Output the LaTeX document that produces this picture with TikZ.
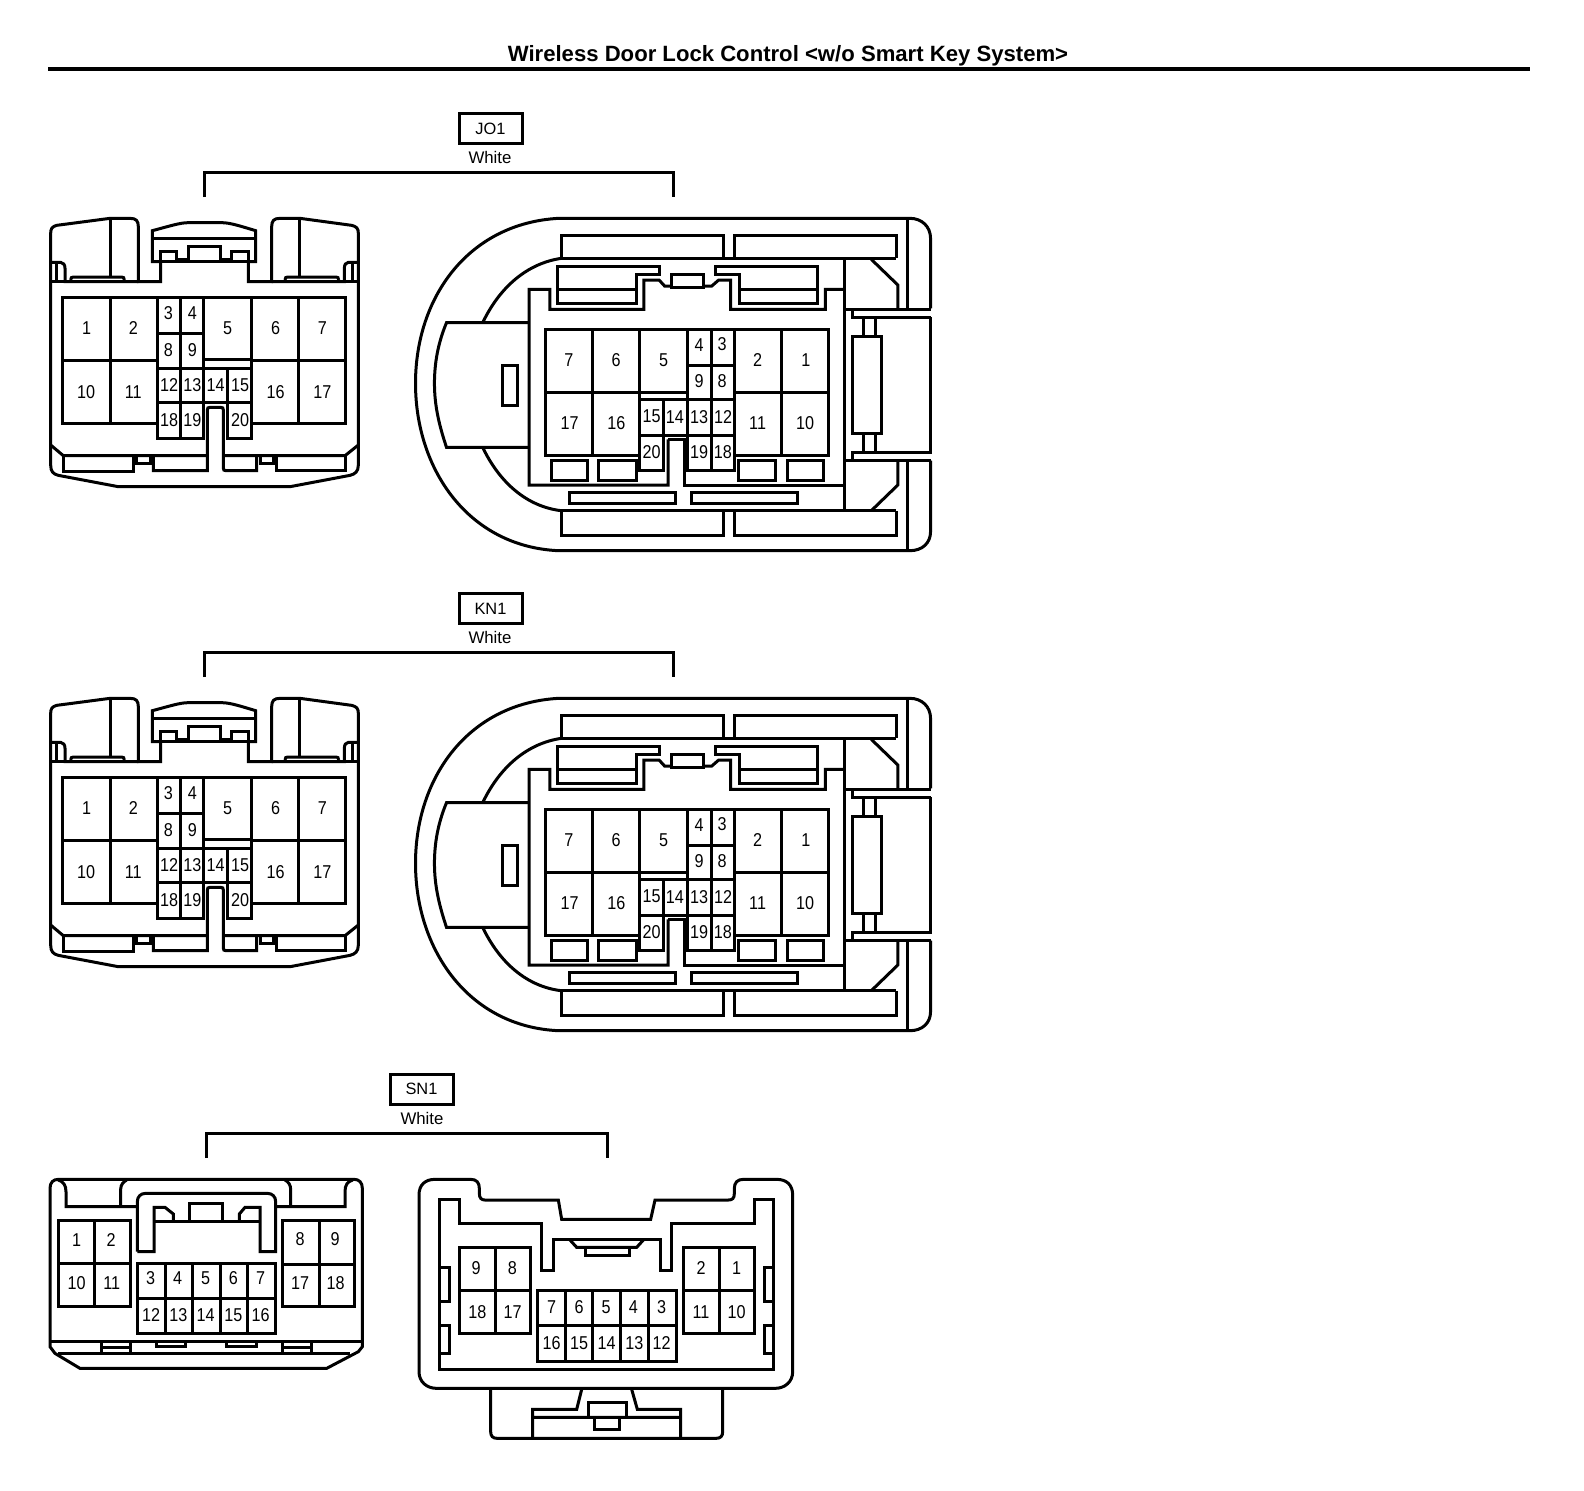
\documentclass[tikz,border=0pt]{standalone}
\usepackage{fontspec}
\usepackage{graphicx}
\setmainfont{Liberation Sans}
\tikzset{
  wire/.style={line width=1.5pt,line join=miter,draw=black},
  rulewire/.style={line width=2pt,draw=black},
  pinlabel/.style={inner sep=0pt,font=\fontsize{9.3}{10}\selectfont},
  tagbox/.style={draw=black,line width=1.5pt,minimum width=31.5pt,minimum height=15pt,inner sep=0pt,font=\fontsize{8.2}{9}\selectfont},
  taglabel/.style={inner sep=0pt,font=\fontsize{8.4}{9}\selectfont},
  titlelabel/.style={inner sep=0pt,font=\fontsize{11.06}{12}\selectfont\bfseries}
}
\newcommand{\pn}[3]{\node[pinlabel] (\pfx-#3) at (#1,#2) {\scalebox{0.87}[1]{#3}};}
% left 20-pin connector
\newcommand{\connA}[3]{%
\begin{scope}[shift={(#2,#3)},x=0.16667pt,y=-0.16667pt]
\def\pfx{#1}
\draw[wire] (62,100) .. controls (62,85) and (67,80) .. (80,76) -- (240,55) -- (300,55) .. controls (318,55) and (325,62) .. (325,80) -- (325,245) -- (392,245) -- (392,185) -- (367,185) -- (367,92) .. controls (420,78) and (450,68) .. (475,68) -- (575,68) .. controls (600,68) and (630,78) .. (677,92) -- (677,185) -- (655,185) -- (655,245) -- (725,245) -- (725,80) .. controls (725,62) and (732,55) .. (750,55) -- (810,55) -- (965,76) .. controls (980,80) and (985,85) .. (985,100) -- (985,795) .. controls (985,815) and (975,822) .. (960,826) -- (780,860) -- (265,860) -- (85,826) .. controls (70,822) and (62,815) .. (62,795) -- cycle;
\draw[wire] (367,115) -- (677,115);
\draw[wire] (367,185) -- (677,185);
\draw[wire] (392,185) -- (392,155) -- (440,155) -- (440,185) (440,177) -- (475,177) (475,185) -- (475,140) -- (570,140) -- (570,185) (570,177) -- (605,177) (605,185) -- (605,155) -- (655,155) -- (655,185);
\draw[wire] (62,187) -- (92,187) .. controls (100,187) and (105,195) .. (105,205) -- (105,245) -- (325,245);
\draw[wire] (80,190) -- (80,245) (62,245) -- (105,245);
\draw[wire] (985,187) -- (955,187) .. controls (947,187) and (943,195) .. (943,205) -- (943,245) -- (725,245);
\draw[wire] (967,190) -- (967,245) (985,245) -- (943,245);
\draw[wire] (122,240) .. controls (122,233) and (125,231) .. (130,231) -- (275,231) .. controls (280,231) and (283,233) .. (283,240);
\draw[wire] (765,240) .. controls (765,233) and (768,231) .. (773,231) -- (918,231) .. controls (923,231) and (926,233) .. (926,240);
\draw[wire] (240,58) -- (240,231) (808,58) -- (808,231);
% lower band
\draw[wire] (62,735) -- (100,767) -- (532,767) (580,767) -- (945,767) -- (985,735);
\draw[wire] (100,767) -- (100,815) -- (310,815) -- (310,767);
\draw[wire] (320,767) -- (320,790) -- (360,790) -- (360,767);
\draw[wire] (370,767) -- (370,812) -- (532,812) -- (532,630) .. controls (532,624) and (534,622) .. (540,622) -- (572,622) .. controls (578,622) and (580,624) .. (580,630) -- (580,804) .. controls (580,810) and (582,812) .. (588,812) -- (680,812) -- (680,767);
\draw[wire] (690,767) -- (690,790) -- (730,790) -- (730,767);
\draw[wire] (740,767) -- (740,812) -- (945,812) -- (945,767);
% terminal cells
\draw[wire] (383,670) -- (97,670) -- (97,293) -- (945,293) -- (945,670) -- (665,670);
\draw[wire] (97,482) -- (383,482) (665,482) -- (945,482) (240,293) -- (240,670) (805,293) -- (805,670);
\draw[wire] (383,293) -- (383,715) -- (520,715) -- (520,505) (452,293) -- (452,715) (520,293) -- (520,505);
\draw[wire] (383,400) -- (520,400) (383,505) -- (665,505) (520,478) -- (665,478) (383,608) -- (665,608);
\draw[wire] (665,293) -- (665,715) -- (592,715) -- (592,505);
\pn{170}{385}{1}\pn{310}{385}{2}\pn{415}{340}{3}\pn{487}{340}{4}\pn{593}{385}{5}\pn{737}{385}{6}\pn{877}{385}{7}
\pn{415}{450}{8}\pn{487}{450}{9}\pn{168}{575}{10}\pn{310}{575}{11}\pn{417}{555}{12}\pn{487}{555}{13}\pn{557}{555}{14}\pn{630}{555}{15}
\pn{737}{575}{16}\pn{877}{575}{17}\pn{417}{660}{18}\pn{487}{660}{19}\pn{630}{660}{20}
\end{scope}}
% right 20-pin connector
\newcommand{\connB}[3]{%
\begin{scope}[shift={(#2,#3)},x=0.17225pt,y=-0.16667pt]
\def\pfx{#1}
\draw[wire] (1540,325) -- (1540,115) .. controls (1540,80) and (1515,55) .. (1480,55) -- (460,55) .. controls (200,70) and (45,290) .. (45,550) .. controls (45,810) and (200,1040) .. (460,1052) -- (1480,1052) .. controls (1515,1052) and (1540,1030) .. (1540,995) -- (1540,782);
\draw[wire] (1290,328) -- (1540,328) (1290,782) -- (1540,782);
\draw[wire] (1540,352) -- (1312,352) -- (1312,330) (1540,352) -- (1540,757) -- (1312,757) -- (1312,782);
\draw[wire] (1473,55) -- (1473,328) (1473,782) -- (1473,1052);
\draw[wire] (1290,175) -- (1290,932);
\draw[wire] (1368,178) -- (1445,255) -- (1445,328) (1368,932) -- (1445,855) -- (1445,782);
\draw[wire] (1314,410) rectangle (1398,700);
\draw[wire] (1345,352) -- (1345,410) (1380,352) -- (1380,410) (1345,700) -- (1345,757) (1380,700) -- (1380,757);
\draw[wire] (468,175) .. controls (370,190) and (290,260) .. (240,368);
\draw[wire] (240,742) .. controls (290,850) and (370,920) .. (468,932);
\draw[wire] (468,175) -- (1440,175) (468,932) -- (1440,932);
\draw[wire] (468,175) -- (468,105) -- (938,105) -- (938,175) (972,175) -- (972,105) -- (1440,105) -- (1440,175);
\draw[wire] (468,932) -- (468,1005) -- (938,1005) -- (938,932) (972,932) -- (972,1005) -- (1440,1005) -- (1440,932);
\draw[wire] (375,368) -- (135,368) .. controls (110,430) and (100,490) .. (100,550) .. controls (100,620) and (115,680) .. (135,742) -- (375,742);
\draw[wire] (297,495) rectangle (342,617);
\draw[wire] (778,718) -- (778,855) -- (375,855) -- (375,268) -- (435,268) -- (435,328) -- (708,328) -- (708,240) -- (752,240) -- (768,258) -- (788,258);
\draw[wire] (788,222) rectangle (882,262);
\draw[wire] (882,258) -- (905,258) -- (925,240) -- (960,240) -- (960,328) -- (1235,328) -- (1235,268) -- (1290,268);
\draw[wire] (778,718) -- (825,718) -- (825,855) -- (1290,855);
\draw[wire] (457,198) -- (752,198) -- (752,222) -- (685,222) -- (685,310) -- (457,310) -- cycle (457,268) -- (685,268);
\draw[wire] (915,198) -- (1213,198) -- (1213,310) -- (985,310) -- (985,222) -- (915,222) -- cycle (985,268) -- (1213,268);
% cells
\draw[wire] (972,765) -- (1245,765) -- (1245,388) -- (422,388) -- (422,765) -- (695,765);
\draw[wire] (558,388) -- (558,765) (695,388) -- (695,812) -- (765,812) -- (765,598) (835,388) -- (835,812) -- (972,812) -- (972,388) (903,388) -- (903,812) (1108,388) -- (1108,765);
\draw[wire] (422,578) -- (835,578) (972,578) -- (1245,578) (835,495) -- (972,495) (695,598) -- (972,598) (695,705) -- (972,705);
\draw[wire] (440,782) rectangle (545,840) (575,782) rectangle (685,840) (982,782) rectangle (1090,840) (1125,782) rectangle (1230,840);
\draw[wire] (492,878) rectangle (800,910) (845,878) rectangle (1155,910);
\pn{490}{480}{7}\pn{627}{480}{6}\pn{765}{480}{5}\pn{868}{435}{4}\pn{935}{432}{3}\pn{1038}{480}{2}\pn{1178}{480}{1}
\pn{868}{543}{9}\pn{935}{543}{8}\pn{492}{668}{17}\pn{628}{668}{16}\pn{730}{650}{15}\pn{798}{650}{14}\pn{868}{650}{13}\pn{938}{650}{12}
\pn{1038}{668}{11}\pn{1176}{668}{10}\pn{730}{757}{20}\pn{868}{757}{19}\pn{937}{757}{18}
\end{scope}}
\begin{document}
\begin{tikzpicture}[x=0.5pt,y=-0.5pt]
\useasboundingbox (0,0) rectangle (1584,1490);
\node[titlelabel] (title) at (788,56) {Wireless Door Lock Control <w/o Smart Key System>};
\coordinate (rulel) at (48,69);
\coordinate (ruler) at (1530,69);
\draw[rulewire] (rulel) -- (ruler);
% JO1
\node[tagbox] (tagJ) at (490.5,128.5) {JO1};
\node[taglabel] (colJ) at (490,157) {White};
\coordinate (bJa) at (204,197);\coordinate (bJb) at (204,172);\coordinate (bJc) at (673,172);\coordinate (bJd) at (673,197);
\draw[wire] (bJa) -- (bJb) -- (bJc) -- (bJd);
\connA{ja}{30}{200}
\connB{jb}{400}{200}
% KN1
\node[tagbox] (tagK) at (490.5,608.5) {KN1};
\node[taglabel] (colK) at (490,637) {White};
\coordinate (bKa) at (204,677);\coordinate (bKb) at (204,652);\coordinate (bKc) at (673,652);\coordinate (bKd) at (673,677);
\draw[wire] (bKa) -- (bKb) -- (bKc) -- (bKd);
\connA{ka}{30}{680}
\connB{kb}{400}{680}
% SN1
\node[tagbox] (tagS) at (421.5,1089) {SN1};
\node[taglabel] (colS) at (422,1118) {White};
\coordinate (bSa) at (206,1158);\coordinate (bSb) at (206,1133);\coordinate (bSc) at (607,1133);\coordinate (bSd) at (607,1158);
\draw[wire] (bSa) -- (bSb) -- (bSc) -- (bSd);
% SN1 left
\begin{scope}[shift={(30,1150)},x=0.16667pt,y=-0.16667pt]
\def\pfx{sa}
\draw[wire] (60,115) .. controls (60,97) and (70,88) .. (85,88) -- (972,88) .. controls (987,88) and (997,97) .. (997,115) -- (997,590) -- (985,605) -- (890,655) -- (150,655) -- (75,610) -- (60,590) -- cycle;
\draw[wire] (62,575) -- (995,575);
\draw[wire] (85,610) -- (960,610);
\draw[wire] (215,578) -- (215,608) (215,592) -- (300,592) (300,578) -- (300,608);
\draw[wire] (380,578) -- (380,588) -- (465,588) -- (465,578);
\draw[wire] (590,578) -- (590,588) -- (680,588) -- (680,578);
\draw[wire] (758,578) -- (758,608) (758,592) -- (843,592) (843,578) -- (843,608);
\draw[wire] (85,90) .. controls (100,95) and (108,105) .. (108,125) -- (108,170) -- (322,170);
\draw[wire] (272,170) -- (272,118) .. controls (272,105) and (280,95) .. (290,90);
\draw[wire] (968,90) .. controls (952,95) and (945,105) .. (945,125) -- (945,170) -- (737,170);
\draw[wire] (782,170) -- (782,118) .. controls (782,105) and (775,95) .. (765,90);
\draw[wire] (322,305) -- (322,155) .. controls (322,140) and (332,130) .. (347,130) -- (712,130) .. controls (727,130) and (737,140) .. (737,155) -- (737,305) -- (690,305) -- (690,172) -- (645,172) -- (628,192) -- (628,215);
\draw[wire] (690,215) -- (372,215);
\draw[wire] (322,305) -- (372,305) -- (372,172) -- (405,172) -- (430,192) -- (430,215);
\draw[wire] (478,215) -- (478,160) -- (578,160) -- (578,215);
\draw[wire] (85,210) rectangle (300,468) (192,210) -- (192,468) (85,340) -- (300,340);
\draw[wire] (757,210) rectangle (972,468) (868,210) -- (868,468) (757,342) -- (972,342);
\draw[wire] (322,340) rectangle (737,550) (322,445) -- (737,445) (405,340) -- (405,550) (488,340) -- (488,550) (570,340) -- (570,550) (653,340) -- (653,550);
\pn{140}{270}{1}\pn{243}{270}{2}\pn{140}{400}{10}\pn{245}{400}{11}\pn{362}{385}{3}\pn{443}{385}{4}\pn{527}{385}{5}\pn{610}{385}{6}\pn{692}{385}{7}
\pn{363}{495}{12}\pn{445}{495}{13}\pn{527}{495}{14}\pn{610}{495}{15}\pn{692}{495}{16}\pn{810}{268}{8}\pn{915}{268}{9}\pn{810}{400}{17}\pn{917}{400}{18}
\end{scope}
% SN1 right
\begin{scope}[shift={(400,1150)},x=0.16667pt,y=-0.16667pt]
\def\pfx{sb}
\draw[wire] (57,135) .. controls (57,105) and (75,88) .. (105,88) -- (212,88) .. controls (230,88) and (238,98) .. (238,115) -- (238,130) .. controls (238,145) and (245,150) .. (255,150) -- (475,150) -- (485,208) -- (752,208) -- (765,150) -- (985,150) .. controls (997,150) and (1003,145) .. (1003,130) -- (1003,115) .. controls (1003,98) and (1012,88) .. (1030,88) -- (1130,88) .. controls (1160,88) and (1178,105) .. (1178,135) -- (1178,665) .. controls (1178,695) and (1155,715) .. (1125,715) -- (110,715) .. controls (80,715) and (57,695) .. (57,665) -- cycle;
\draw[wire] (118,148) -- (178,148) -- (178,220) -- (425,220) -- (425,362) -- (460,362) -- (460,268) -- (780,268) -- (780,362) -- (815,362) -- (815,220) -- (1062,220) -- (1062,148) -- (1120,148) -- (1120,658) -- (118,658) -- cycle;
\draw[wire] (510,270) -- (530,292) -- (710,292) -- (730,270);
\draw[wire] (555,292) -- (555,317) -- (688,317) -- (688,292);
\draw[wire] (120,352) -- (147,352) -- (147,455) -- (120,455) (120,525) -- (147,525) -- (147,610) -- (120,610);
\draw[wire] (1118,352) -- (1092,352) -- (1092,455) -- (1118,455) (1118,525) -- (1092,525) -- (1092,610) -- (1118,610);
\draw[wire] (178,292) rectangle (390,550) (285,292) -- (285,550) (178,420) -- (390,420);
\draw[wire] (850,292) rectangle (1062,550) (958,292) -- (958,550) (850,420) -- (1062,420);
\draw[wire] (412,420) rectangle (828,633) (412,525) -- (828,525) (495,420) -- (495,633) (578,420) -- (578,633) (662,420) -- (662,633) (745,420) -- (745,633);
\draw[wire] (272,715) -- (272,845) .. controls (272,858) and (278,865) .. (292,865) -- (948,865) .. controls (962,865) and (968,858) .. (968,845) -- (968,715);
\draw[wire] (545,718) -- (530,778) -- (398,778) -- (398,865) (398,802) -- (842,802) (842,865) -- (842,778) -- (712,778) -- (695,718);
\draw[wire] (565,802) -- (565,757) -- (680,757) -- (680,802);
\draw[wire] (582,802) -- (582,838) -- (658,838) -- (658,802);
\pn{228}{353}{9}\pn{337}{353}{8}\pn{232}{485}{18}\pn{338}{485}{17}\pn{455}{470}{7}\pn{537}{470}{6}\pn{618}{470}{5}\pn{700}{470}{4}\pn{785}{470}{3}
\pn{455}{578}{16}\pn{537}{578}{15}\pn{620}{578}{14}\pn{703}{578}{13}\pn{785}{578}{12}\pn{903}{353}{2}\pn{1010}{353}{1}\pn{903}{485}{11}\pn{1010}{485}{10}
\end{scope}
\end{tikzpicture}
\end{document}
